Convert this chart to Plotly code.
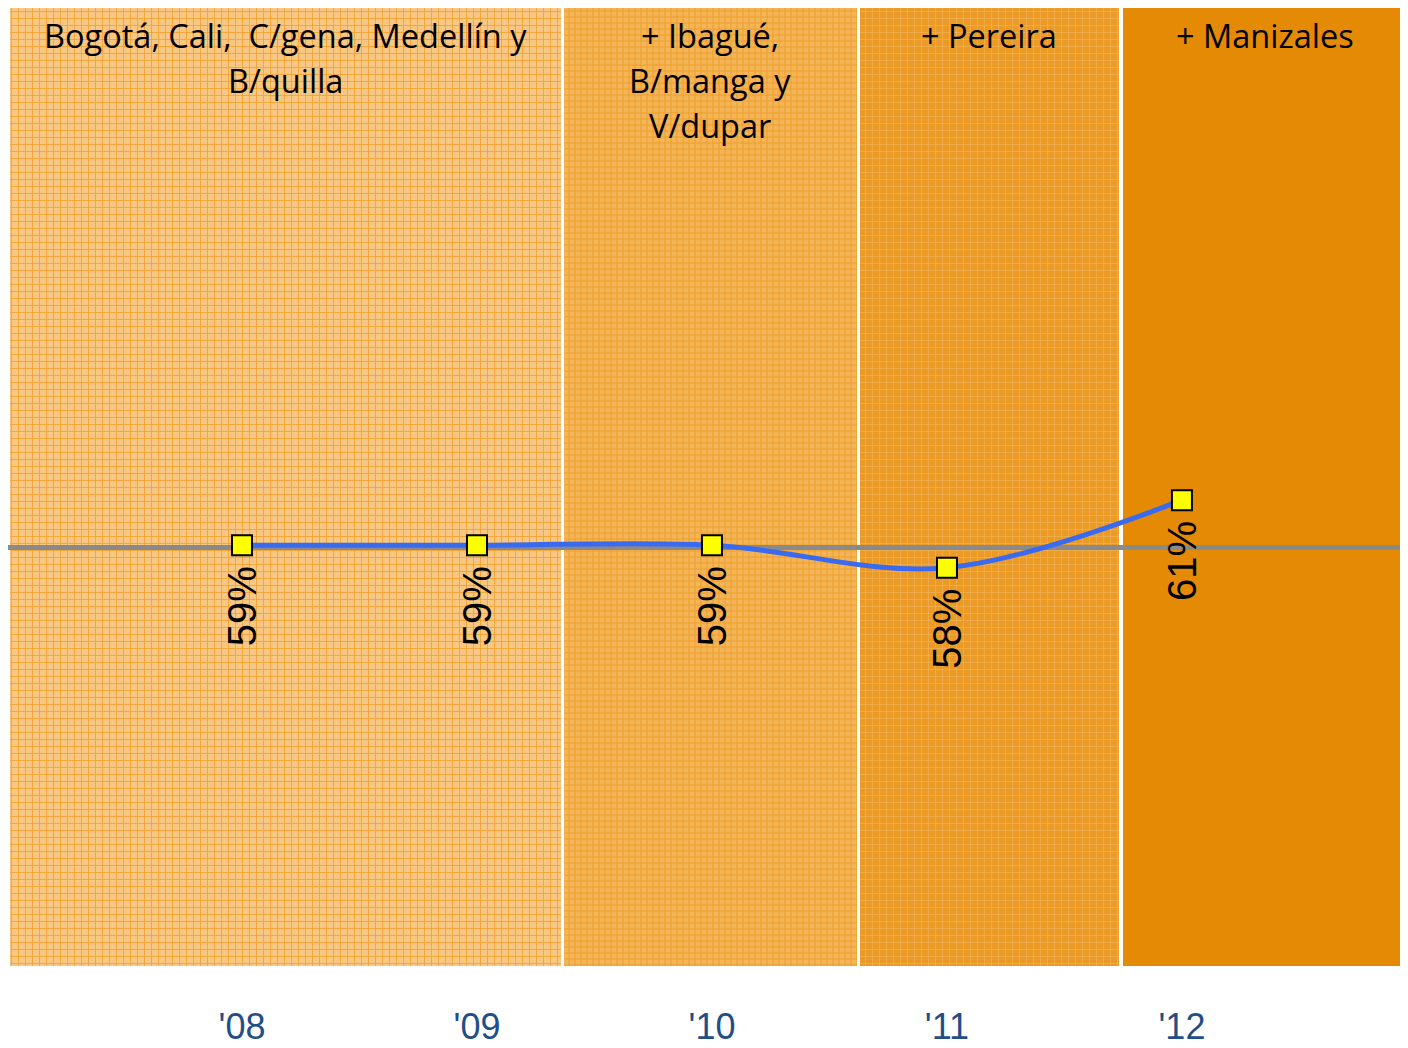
import plotly.graph_objects as go

# ---- data ----
years = ["'08", "'09", "'10", "'11", "'12"]
values = [0.59, 0.59, 0.59, 0.58, 0.61]
reference_value = 0.589

region_labels = [
    ["Bogotá, Cali,\u00a0 C/gena, Medellín y", "B/quilla"],
    ["+ Ibagué,", "B/manga y", "V/dupar"],
    ["+ Pereira"],
    ["+ Manizales"],
]
region_start = [-0.987, 1.370, 2.630, 3.749]
region_end = [1.357, 2.617, 3.732, 4.962]

# ---- styles ----
X_RANGE = [-0.9957, 4.962]
Y_RANGE = [0.403, 0.8287]
region_styles = [
    dict(bg="#F8C784", fg="#F0A02C", size=7, solidity=0.22, shape="+"),
    dict(bg="#F4B458", fg="#EE9A1E", size=6, solidity=0.25, shape="+"),
    dict(bg="#EB9A26", fg="#F2B25A", size=7, solidity=0.18, shape="+"),
    dict(bg="#E48A04", fg="#E48A04", size=7, solidity=0.0, shape=""),
]

fig = go.Figure()

# background regions
for s, e, st in zip(region_start, region_end, region_styles):
    pattern = dict(shape=st["shape"], fgcolor=st["fg"], bgcolor=st["bg"],
                   size=st["size"], solidity=st["solidity"], fillmode="replace") if st["shape"] else None
    fig.add_trace(go.Bar(
        x=[(s + e) / 2], width=[e - s], base=[Y_RANGE[0]], y=[Y_RANGE[1] - Y_RANGE[0]],
        marker=dict(color=st["bg"], line=dict(width=0), pattern=pattern),
        hoverinfo="skip", showlegend=False,
    ))

# reference gray line
fig.add_trace(go.Scatter(
    x=X_RANGE, y=[reference_value, reference_value], mode="lines",
    line=dict(color="#8A8A8A", width=5), hoverinfo="skip", showlegend=False,
))

# main series
fig.add_trace(go.Scatter(
    x=list(range(len(years))), y=values, mode="lines+markers",
    line=dict(color="#3A6AF0", width=5, shape="spline", smoothing=1.0),
    marker=dict(symbol="square", size=20, color="#FFFF00", line=dict(color="#000000", width=2)),
    showlegend=False,
))

annotations = []
for i, v in enumerate(values):
    annotations.append(dict(
        x=i, y=v, xref="x", yref="y", text=f"{v:.0%}", textangle=-90,
        showarrow=False, xanchor="center", yanchor="top", yshift=-19,
        font=dict(family="Liberation Sans, Arial", size=40, color="#000000"),
    ))

for s, e, lines in zip(region_start, region_end, region_labels):
    for j, ln in enumerate(lines):
        annotations.append(dict(
            x=(s + e) / 2, y=1, xref="x", yref="paper", text=ln,
            showarrow=False, xanchor="center", yanchor="middle", yshift=-27 - 45 * j,
            font=dict(family="Open Sans, sans-serif", size=32.5, color="#000000"),
        ))

fig.update_layout(
    width=1400, height=1040,
    margin=dict(l=0, r=0, t=0, b=82, autoexpand=False),
    paper_bgcolor="white", plot_bgcolor="white",
    barmode="overlay", bargap=0,
    annotations=annotations,
    xaxis=dict(range=X_RANGE, tickmode="array", tickvals=list(range(len(years))), ticktext=years,
               showgrid=False, zeroline=False, showline=False, ticks="", automargin=False,
               ticklabelstandoff=36,
               tickfont=dict(family="Liberation Sans, Arial", size=36, color="#1F4E89")),
    yaxis=dict(range=Y_RANGE, showgrid=False, zeroline=False, showline=False, automargin=False,
               showticklabels=False, ticks=""),
)

fig.write_html("out.html")
